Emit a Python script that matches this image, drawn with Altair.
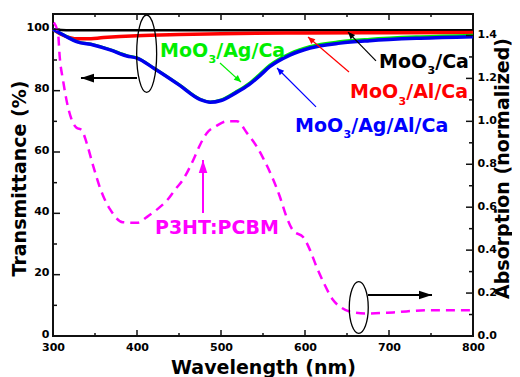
import altair as alt
import pandas as pd

FONT = "DejaVu Sans"

# ---------------- data ----------------
black_wl = [300, 310, 320, 400, 500, 600, 700, 800]
black_t = [100.0, 99.8, 99.7, 99.7, 99.7, 99.7, 99.7, 99.7]

red_wl = [300, 310, 320, 330, 340, 360, 400, 450, 500, 600, 700, 800]
red_t = [100.0, 98.3, 97.3, 96.9, 96.9, 97.3, 97.9, 98.3, 98.6, 98.8, 98.9, 99.0]

blue_wl = [300, 316, 328, 348, 368, 388, 400, 420, 450, 476, 487, 500, 517, 533,
           545, 558, 582, 606, 642, 677, 737, 800]
blue_t = [100.0, 97.6, 96.0, 94.9, 93.3, 91.3, 90.6, 87.3, 81.9, 77.0, 76.2, 76.8,
          79.2, 81.9, 84.6, 87.8, 91.6, 93.9, 95.5, 96.3, 97.1, 97.6]
green_t = [100.0, 97.7, 96.1, 95.0, 93.4, 91.4, 90.7, 87.4, 82.0, 77.1, 76.3, 77.0,
           79.5, 82.3, 85.1, 88.3, 92.1, 94.4, 96.0, 96.8, 97.6, 98.1]

abs_wl = [301, 306, 308, 312, 316, 322, 328, 334, 340, 348, 356, 360, 368, 383, 400,
          412, 424, 436, 445, 455, 467, 475, 483, 495, 507, 519, 531, 543, 550, 562,
          570, 578, 586, 598, 606, 614, 622, 633, 644, 657, 673, 705, 745, 800]
abs_val = [1.46, 1.41, 1.30, 1.19, 1.10, 1.01, 0.97, 0.96, 0.90, 0.79, 0.69, 0.65,
           0.59, 0.53, 0.527, 0.555, 0.59, 0.633, 0.68, 0.73, 0.82, 0.89, 0.945, 0.98,
           1.0, 1.0, 0.945, 0.88, 0.83, 0.73, 0.65, 0.555, 0.49, 0.46, 0.40, 0.32, 0.25,
           0.17, 0.13, 0.11, 0.105, 0.11, 0.12, 0.12]

# tick values
x_major = [300, 400, 500, 600, 700, 800]
x_minor = [350, 450, 550, 650, 750]
yl_major = [0, 20, 40, 60, 80, 100]
yl_minor = [10, 30, 50, 70, 90]
yr_major = [0.0, 0.2, 0.4, 0.6, 0.8, 1.0, 1.2, 1.4]
yr_minor = [0.1, 0.3, 0.5, 0.7, 0.9, 1.1, 1.3]

# annotation labels (anchor in wavelength / transmittance units)
lab_x = [427.4, 688.1, 653.6, 588.1]
lab_y = [91.1, 87.5, 77.5, 66.6]
lab_rest = ["/Ag/Ca", "/Ca", "/Al/Ca", "/Ag/Al/Ca"]
lab_color = ["#00EE00", "#000000", "#FF0000", "#0000FF"]

p3_x = [421.4]
p3_y = [33.3]
p3_text = ["P3HT:PCBM"]

# thin coloured arrows
ar_x = [498.8, 684.5, 652.4, 613.1]
ar_y = [89.0, 89.7, 86.1, 74.7]
ar_x2 = [523.8, 651.2, 603.6, 566.7]
ar_y2 = [82.8, 99.1, 97.5, 87.4]
ar_color = ["#00EE00", "#000000", "#FF0000", "#0000FF"]
ar_angle = [132, 316, 310.5, 315]

# thick arrows
ta_x = [400.0, 675.0, 478.6]
ta_y = [84.1, 13.37, 40.1]
ta_x2 = [333.3, 751.2, 478.6]
ta_y2 = [84.1, 13.37, 57.4]
ta_color = ["#000000", "#000000", "#FF00FF"]
ta_angle = [270, 90, 0]

# ellipses
el_x = [411.5]
el_y = [92.05]
er_x = [664.0]
er_y = [9.29]

# ---------------- frames ----------------
def series(wl, vals):
    return pd.DataFrame({"wl": wl, "v": vals})

df_black = series(black_wl, black_t)
df_red = series(red_wl, red_t)
df_green = series(blue_wl, green_t)
df_blue = series(blue_wl, blue_t)
df_abs = series(abs_wl, abs_val)
df_lab = pd.DataFrame({"wl": lab_x, "v": lab_y, "rest": lab_rest, "c": lab_color})
df_p3 = pd.DataFrame({"wl": p3_x, "v": p3_y, "t": p3_text})
df_ar = pd.DataFrame({"wl": ar_x, "v": ar_y, "wl2": ar_x2, "v2": ar_y2, "c": ar_color, "a": ar_angle})
df_ta = pd.DataFrame({"wl": ta_x, "v": ta_y, "wl2": ta_x2, "v2": ta_y2, "c": ta_color, "a": ta_angle})
df_el = pd.DataFrame({"wl": el_x, "v": el_y})
df_er = pd.DataFrame({"wl": er_x, "v": er_y})

W, H = 420, 322
XS = alt.Scale(domain=[300, 800], nice=False, zero=False)
YL = [0, 105]
YR = [0, 1.5]
TICK = "#111111"

common_lab = dict(labelFont=FONT, labelFontSize=11, labelFontWeight="bold",
                  labelColor="black", titleFont=FONT, titleFontWeight="bold",
                  titleColor="black", grid=False, domain=False,
                  ticks=False, tickSize=0, labelFlush=False, labelOverlap=False)

x_lab_axis = alt.Axis(orient="bottom", values=x_major, labelPadding=5,
                      title="Wavelength (nm)", titleFontSize=19, titleX=W / 2, titleY=37,
                      titleBaseline="alphabetic", titleAlign="center", **common_lab)
yl_lab_axis = alt.Axis(orient="left", values=yl_major, labelPadding=4, labelOffset=-2,
                       title="Transmittance (%)", titleFontSize=19, titleX=-34, titleY=164,
                       titleAngle=270, titleBaseline="middle", titleAlign="center",
                       **common_lab)
yr_lab_axis = alt.Axis(orient="right", values=yr_major, labelPadding=4, labelOffset=-1,
                       format=".1f",
                       title="Absorption (normalized)", titleFontSize=19, titleX=29.5,
                       titleY=154, titleAngle=270, titleBaseline="middle",
                       titleAlign="center", **common_lab)


def xenc(axis=None):
    return alt.X("wl:Q", scale=XS, axis=axis)


def yenc(dom, axis=None):
    return alt.Y("v:Q", scale=alt.Scale(domain=dom, nice=False, zero=False), axis=axis)


line_black = alt.Chart(df_black).mark_line(color="#000000", strokeWidth=2.5, interpolate="monotone").encode(
    x=xenc(x_lab_axis), y=yenc(YL, yl_lab_axis))
line_red = alt.Chart(df_red).mark_line(color="#FF0000", strokeWidth=3.5, interpolate="monotone").encode(
    x=xenc(), y=yenc(YL))
line_green = alt.Chart(df_green).mark_line(color="#00EE00", strokeWidth=3, interpolate="monotone").encode(
    x=xenc(), y=yenc(YL))
line_blue = alt.Chart(df_blue).mark_line(color="#0000EE", strokeWidth=3.5, interpolate="monotone").encode(
    x=xenc(), y=yenc(YL))
line_abs = alt.Chart(df_abs).mark_line(color="#FF00FF", strokeWidth=2.5, strokeDash=[9, 6],
                                       interpolate="monotone").encode(
    x=xenc(), y=yenc(YR, yr_lab_axis))

# inward ticks, drawn at the tick values through the chart's own scales
def xticks(vals, size, top):
    d = pd.DataFrame({"wl": vals})
    y0, y1 = (0, size) if top else (H - size, H)
    return alt.Chart(d).mark_rule(color=TICK, strokeWidth=1.5).encode(
        x=xenc(), y=alt.value(y0), y2=alt.value(y1))


def yticks(vals, dom, size, right):
    d = pd.DataFrame({"v": vals})
    x0, x1 = (W - size, W) if right else (0, size)
    return alt.Chart(d).mark_rule(color=TICK, strokeWidth=1.5).encode(
        y=yenc(dom), x=alt.value(x0), x2=alt.value(x1))


tick_layers = [
    xticks(x_major, 6, False), xticks(x_minor, 3, False),
    xticks(x_major, 6, True), xticks(x_minor, 3, True),
    yticks(yl_major, YL, 7, False), yticks(yl_minor, YL, 4, False),
    yticks(yr_major, YR, 7, True), yticks(yr_minor, YR, 4, True),
]

txt = dict(font=FONT, fontWeight="bold", align="left", baseline="alphabetic")
lab_moo = alt.Chart(df_lab).mark_text(fontSize=19, text="MoO", **txt).encode(
    x=xenc(), y=yenc(YL), color=alt.Color("c:N", scale=None))
lab_sub = alt.Chart(df_lab).mark_text(fontSize=11, text="3", dx=48.4, dy=6.5, **txt).encode(
    x=xenc(), y=yenc(YL), color=alt.Color("c:N", scale=None))
lab_rest_l = alt.Chart(df_lab).mark_text(fontSize=19, dx=56.2, **txt).encode(
    x=xenc(), y=yenc(YL), text="rest:N", color=alt.Color("c:N", scale=None))
lab_p3 = alt.Chart(df_p3).mark_text(fontSize=19, color="#FF00FF", **txt).encode(
    x=xenc(), y=yenc(YL), text="t:N")

YLS = alt.Scale(domain=YL, nice=False, zero=False)
thin_rules = alt.Chart(df_ar).mark_rule(strokeWidth=1.2).encode(
    x=xenc(), y=yenc(YL), x2="wl2:Q", y2="v2:Q", color=alt.Color("c:N", scale=None))
thin_heads = alt.Chart(df_ar).mark_point(shape="M0,0 L-0.45,1 L0.45,1 Z", size=196, filled=True,
                                         opacity=1).encode(
    x=alt.X("wl2:Q", scale=XS, axis=None), y=alt.Y("v2:Q", scale=YLS, axis=None),
    color=alt.Color("c:N", scale=None), angle=alt.Angle("a:Q", scale=None))
thick_rules = alt.Chart(df_ta).mark_rule(strokeWidth=2).encode(
    x=xenc(), y=yenc(YL), x2="wl2:Q", y2="v2:Q", color=alt.Color("c:N", scale=None))
thick_heads = alt.Chart(df_ta).mark_point(shape="M0,0 L-0.33,1 L0.33,1 Z", size=676, filled=True,
                                          opacity=1).encode(
    x=alt.X("wl2:Q", scale=XS, axis=None), y=alt.Y("v2:Q", scale=YLS, axis=None),
    color=alt.Color("c:N", scale=None), angle=alt.Angle("a:Q", scale=None))

ell_left_path = ("M0,-1 C0.1425,-1 0.258,-0.5523 0.258,0 C0.258,0.5523 0.1425,1 0,1 "
                 "C-0.1425,1 -0.258,0.5523 -0.258,0 C-0.258,-0.5523 -0.1425,-1 0,-1 Z")
ell_right_path = ("M0,-1 C0.2033,-1 0.368,-0.5523 0.368,0 C0.368,0.5523 0.2033,1 0,1 "
                  "C-0.2033,1 -0.368,0.5523 -0.368,0 C-0.368,-0.5523 -0.2033,-1 0,-1 Z")
ell_left = alt.Chart(df_el).mark_point(shape=ell_left_path, size=5991, filled=False,
                                       stroke="black", strokeWidth=1.3, opacity=1).encode(
    x=xenc(), y=yenc(YL))
ell_right = alt.Chart(df_er).mark_point(shape=ell_right_path, size=2663, filled=False,
                                        stroke="black", strokeWidth=1.3, opacity=1).encode(
    x=xenc(), y=yenc(YL))

chart = alt.layer(
    line_black, line_red, line_green, line_blue, line_abs, *tick_layers,
    ell_left, ell_right, thin_rules, thin_heads, thick_rules, thick_heads,
    lab_moo, lab_sub, lab_rest_l, lab_p3,
).resolve_scale(y="independent").resolve_axis(x="independent", y="independent").properties(
    width=W, height=H,
    autosize=alt.AutoSizeParams(type="none"),
    padding={"left": 45, "top": 6, "right": 39, "bottom": 41},
).configure_view(stroke="#111111", strokeWidth=2)

chart.save("out.html", embed_options={"renderer": "svg", "actions": False})
